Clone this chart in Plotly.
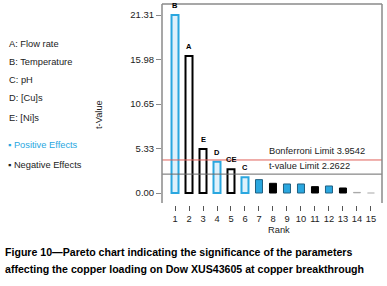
import plotly.graph_objects as go

# ---- data ----
ranks = list(range(1, 16))
t_values = [21.31, 16.4, 5.27, 3.75, 2.83, 1.88, 1.6, 1.16, 1.08, 1.08, 0.76, 0.84, 0.6, 0.08, 0.0]
effect_labels = ["B", "A", "E", "D", "CE", "C", "", "", "", "", "", "", "", "", ""]
effect_signs = ["+", "-", "-", "+", "-", "+", "+", "-", "+", "+", "-", "+", "-", "0", "0"]
y_tick_vals = [0.0, 5.33, 10.65, 15.98, 21.31]
y_tick_text = ["0.00", "5.33", "10.65", "15.98", "21.31"]
bonferroni_limit = 3.9542
t_value_limit = 2.2622
factor_key = ["A: Flow rate", "B: Temperature", "C: pH", "D: [Cu]s", "E: [Ni]s"]
caption = ["Figure 10\u2014Pareto chart indicating the significance of the parameters",
           "affecting the copper loading on Dow XUS43605 at copper breakthrough"]

BLUE = "#2aa7df"
FONT = "Liberation Sans, Arial, sans-serif"

# ---- geometry helpers (pixel -> paper) ----
W, H = 387, 286
L, R, T, B = 162, 5, 4, 81
PW, PH = W - L - R, H - T - B
def px(x):
    return (x - L) / PW
def py(y):
    return (H - B - y) / PH

fill, line_col, line_w = [], [], []
for lab, s in zip(effect_labels, effect_signs):
    if s == "0":
        fill.append("#9a9a9a"); line_col.append("#9a9a9a"); line_w.append(0.5)
    elif lab:
        if s == "+":
            fill.append("#dff1fb"); line_col.append(BLUE)
        else:
            fill.append("white"); line_col.append("black")
        line_w.append(2)
    else:
        fill.append(BLUE if s == "+" else "black")
        line_col.append("#1f5f80" if s == "+" else "black")
        line_w.append(1)

fig = go.Figure(go.Bar(
    x=ranks, y=t_values, width=0.5,
    marker=dict(color=fill, line=dict(color=line_col, width=line_w)),
    showlegend=False, hoverinfo="x+y",
))

annotations = []
for r, v, lab in zip(ranks, t_values, effect_labels):
    if lab:
        annotations.append(dict(x=r, y=v, text="<b>%s</b>" % lab, showarrow=False,
                                yanchor="bottom", yshift=3, font=dict(size=7.5, color="black", family=FONT)))

annotations.append(dict(x=px(267), y=bonferroni_limit, xref="paper", yref="y",
                        text="Bonferroni Limit %.4f" % bonferroni_limit, showarrow=False,
                        xanchor="left", yanchor="bottom", yshift=2,
                        font=dict(size=9.3, color="#222", family=FONT)))
annotations.append(dict(x=px(267), y=t_value_limit, xref="paper", yref="y",
                        text="t-value Limit %.4f" % t_value_limit, showarrow=False,
                        xanchor="left", yanchor="bottom", yshift=1,
                        font=dict(size=9.3, color="#222", family=FONT)))

ys = [44, 62, 80, 98, 118]
for txt, yy in zip(factor_key, ys):
    annotations.append(dict(x=px(7), y=py(yy), xref="paper", yref="paper", text=txt,
                            showarrow=False, xanchor="left", yanchor="middle",
                            font=dict(size=9.3, color="#222", family=FONT)))
annotations.append(dict(x=px(6), y=py(145), xref="paper", yref="paper",
                        text="\u25aa Positive Effects", showarrow=False, xanchor="left", yanchor="middle",
                        font=dict(size=9.3, color=BLUE, family=FONT)))
annotations.append(dict(x=px(6), y=py(165), xref="paper", yref="paper",
                        text="\u25aa Negative Effects", showarrow=False, xanchor="left", yanchor="middle",
                        font=dict(size=9.3, color="#222", family=FONT)))
annotations.append(dict(x=px(92), y=py(115), xref="paper", yref="paper", text="t-Value",
                        textangle=-90, showarrow=False, font=dict(size=9.3, color="#222", family=FONT)))
annotations.append(dict(x=px(279), y=py(237), xref="paper", yref="paper", text="Rank",
                        showarrow=False, font=dict(size=9.3, color="#222", family=FONT)))
for i, (c, yy) in enumerate(zip(caption, [252, 269])):
    annotations.append(dict(x=px(3), y=py(yy), xref="paper", yref="paper", text="<b>%s</b>" % c,
                            showarrow=False, xanchor="left", yanchor="middle",
                            font=dict(size=10.6, color="black", family=FONT)))

shapes = [
    dict(type="line", xref="paper", yref="y", x0=0, x1=1, y0=bonferroni_limit, y1=bonferroni_limit,
         line=dict(color="#e0605a", width=1)),
    dict(type="line", xref="paper", yref="y", x0=0, x1=1, y0=t_value_limit, y1=t_value_limit,
         line=dict(color="#6a6a6a", width=1)),
    dict(type="line", xref="paper", yref="paper", x0=0, x1=0, y0=py(203), y1=1, line=dict(color="#8a8a8a", width=1.5)),
    dict(type="line", xref="paper", yref="paper", x0=0, x1=1, y0=1, y1=1, line=dict(color="#8a8a8a", width=1.5)),
    dict(type="line", xref="paper", yref="paper", x0=1, x1=1, y0=py(203), y1=1, line=dict(color="#8a8a8a", width=1.5)),
]

fig.update_layout(
    template="none",
    width=W, height=H, margin=dict(l=L, r=R, t=T, b=B, pad=0, autoexpand=False),
    paper_bgcolor="white", plot_bgcolor="white",
    font=dict(family=FONT, size=9.3, color="#222"),
    annotations=annotations, shapes=shapes,
    xaxis=dict(range=[0.07, 15.79], tickvals=ranks, ticks="outside", ticklen=5, tickcolor="#555",
               showline=False, showgrid=False, zeroline=False, tickfont=dict(size=9.3), automargin=False),
    yaxis=dict(range=[-1.437, 22.63], tickvals=y_tick_vals, ticktext=y_tick_text, ticks="outside",
               ticklen=5, tickcolor="#8a8a8a", showline=False, showgrid=False, zeroline=False,
               tickfont=dict(size=9.5), automargin=False),
    bargap=0.5,
)

fig.write_html("out.html", config={"displayModeBar": False},
               post_script="document.body.style.margin='0';")
